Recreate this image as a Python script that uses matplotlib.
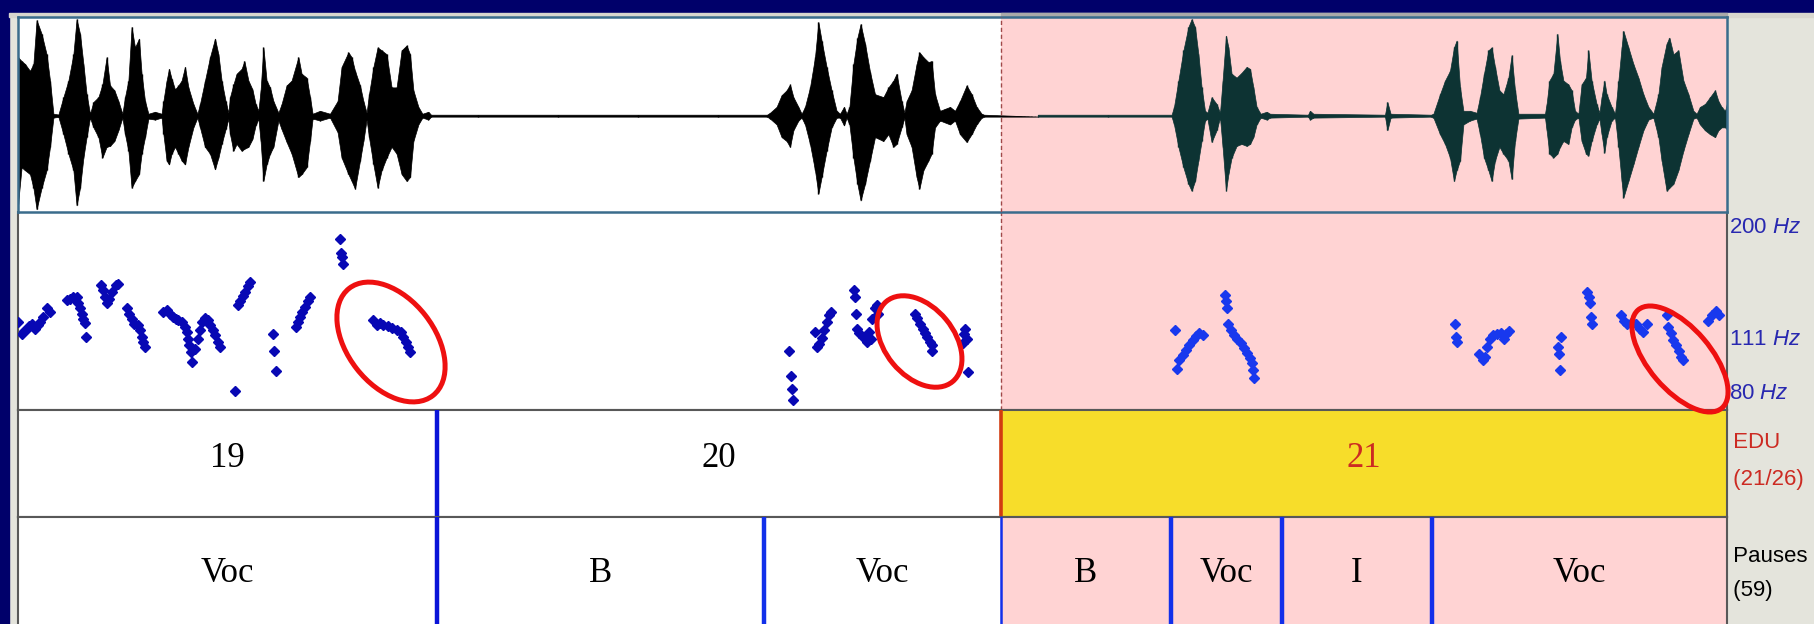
import matplotlib
matplotlib.use("Agg")
import matplotlib.pyplot as plt
from matplotlib.patches import Ellipse, Rectangle
import matplotlib.transforms as mtransforms
from matplotlib import font_manager
import numpy as np

_names = {f.name for f in font_manager.fontManager.ttflist}
NARROW = 'Liberation Sans Narrow' if 'Liberation Sans Narrow' in _names else 'Liberation Sans'
LABEL_FS = 18 if NARROW == 'Liberation Sans Narrow' else 16

plt.rcParams['mathtext.fontset'] = 'custom'
plt.rcParams['mathtext.rm'] = NARROW
plt.rcParams['mathtext.it'] = NARROW + ':italic'

# ---------------- data ----------------
view_start, view_end = 0.0, 8.545          # seconds shown in the window
sel_start = 4.915                           # start of selected interval (EDU 21)

# waveform envelope (time s, upper and lower amplitude)
wave_t = [0.000, 0.018, 0.035, 0.060, 0.077, 0.093, 0.118, 0.143, 0.160, 0.177, 0.202,
          0.227, 0.252, 0.277, 0.293, 0.310, 0.327, 0.343, 0.360, 0.377, 0.402, 0.422,
          0.443, 0.460, 0.482, 0.502, 0.522, 0.535, 0.552, 0.568, 0.585, 0.605, 0.618,
          0.635, 0.652, 0.685, 0.718, 0.727, 0.743, 0.755, 0.768, 0.785, 0.802, 0.818,
          0.835, 0.852, 0.877, 0.897, 0.910, 0.935, 0.960, 0.985, 1.002, 1.018, 1.038,
          1.052, 1.060, 1.077, 1.093, 1.118, 1.132, 1.152, 1.172, 1.188, 1.202, 1.213,
          1.227, 1.243, 1.260, 1.277, 1.302, 1.318, 1.343, 1.368, 1.402, 1.418, 1.443,
          1.460, 1.473, 1.510, 1.560, 1.598, 1.618, 1.652, 1.668, 1.685, 1.710, 1.727,
          1.743, 1.755, 1.777, 1.798, 1.818, 1.843, 1.868, 1.893, 1.918, 1.943, 1.960,
          1.977, 2.002, 2.022, 2.052, 2.065, 2.300, 2.700, 3.100, 3.500, 3.745, 3.760, 3.793,
          3.818, 3.843, 3.860, 3.877, 3.902, 3.918, 3.935, 3.960, 3.985, 4.002, 4.018,
          4.043, 4.068, 4.093, 4.110, 4.130, 4.143, 4.157, 4.177, 4.197, 4.213, 4.235,
          4.260, 4.285, 4.327, 4.352, 4.377, 4.393, 4.418, 4.432, 4.443, 4.468, 4.493,
          4.507, 4.527, 4.552, 4.568, 4.585, 4.610, 4.635, 4.660, 4.685, 4.710, 4.743,
          4.768, 4.793, 4.818, 4.830, 5.100, 5.450, 5.768, 5.780, 5.802, 5.827, 5.852, 5.868,
          5.885, 5.902, 5.918, 5.935, 5.947, 5.968, 5.993, 6.010, 6.023, 6.040, 6.052,
          6.068, 6.093, 6.118, 6.143, 6.160, 6.177, 6.193, 6.213, 6.243, 6.260, 6.450,
          6.460, 6.477, 6.835, 6.847, 6.863, 7.065, 7.077, 7.110, 7.135, 7.160, 7.180,
          7.193, 7.210, 7.227,
          7.260, 7.293, 7.310, 7.330, 7.352, 7.368, 7.385, 7.407, 7.427, 7.452, 7.468,
          7.485, 7.502, 7.635, 7.643, 7.657, 7.677, 7.697, 7.710, 7.727, 7.752, 7.768,
          7.785, 7.802, 7.818, 7.840, 7.852, 7.868, 7.893, 7.907, 7.918, 7.932, 7.943,
          7.968, 7.985, 8.002, 8.018, 8.027, 8.052, 8.077, 8.102, 8.127, 8.152, 8.177,
          8.202, 8.218, 8.243, 8.257, 8.277, 8.302, 8.327, 8.352, 8.377, 8.393, 8.410,
          8.435, 8.460, 8.485, 8.502, 8.518, 8.535, 8.545]
wave_hi = [0.60, 0.56, 0.53, 0.46, 0.53, 0.98, 0.84, 0.63, 0.36, 0.02, 0.012,
           0.19, 0.36, 0.63, 0.99, 0.84, 0.53, 0.22, 0.02, 0.14, 0.19, 0.32,
           0.60, 0.31, 0.26, 0.15, 0.02, 0.19, 0.36, 0.91, 0.70, 0.79, 0.43,
           0.15, 0.02, 0.04, 0.02, 0.15, 0.36, 0.48, 0.38, 0.27, 0.31, 0.36,
           0.50, 0.29, 0.12, 0.02, 0.12, 0.36, 0.60, 0.79, 0.63, 0.36, 0.15,
           0.03, 0.19, 0.32, 0.43, 0.48, 0.56, 0.36, 0.27, 0.12, 0.05, 0.26,
           0.70, 0.36, 0.29, 0.15, 0.03, 0.12, 0.31, 0.36, 0.60, 0.43, 0.39,
           0.19, 0.02, 0.05, 0.02, 0.15, 0.50, 0.65, 0.60, 0.46, 0.31, 0.15,
           0.03, 0.22, 0.50, 0.70, 0.67, 0.63, 0.29, 0.29, 0.67, 0.72, 0.63,
           0.26, 0.09, 0.02, 0.04, 0.01, 0.01, 0.01, 0.01, 0.01, 0.01, 0.03, 0.09,
           0.21, 0.26, 0.32, 0.19, 0.09, 0.02, 0.09, 0.29, 0.60, 0.96, 0.77,
           0.50, 0.26, 0.05, 0.02, 0.09, 0.02, 0.09, 0.53, 0.80, 0.94, 0.74,
           0.45, 0.22, 0.19, 0.29, 0.36, 0.43, 0.15, 0.03, 0.15, 0.26, 0.53,
           0.65, 0.60, 0.55, 0.56, 0.22, 0.05, 0.07, 0.09, 0.05, 0.15, 0.31,
           0.22, 0.09, 0.02, 0.01, 0.01, 0.01, 0.01, 0.09, 0.36, 0.67, 0.91, 0.99,
           0.91, 0.63, 0.29, 0.05, 0.03, 0.19, 0.12, 0.03, 0.36, 0.82, 0.70,
           0.43, 0.39, 0.44, 0.50, 0.48, 0.29, 0.09, 0.02, 0.04, 0.02, 0.01,
           0.05, 0.02, 0.01, 0.14, 0.02, 0.01, 0.02, 0.22, 0.36, 0.46, 0.70,
           0.77, 0.29, 0.05,
           0.05, 0.03, 0.19, 0.43, 0.67, 0.70, 0.50, 0.26, 0.22, 0.39, 0.62,
           0.26, 0.02, 0.02, 0.12, 0.36, 0.43, 0.84, 0.56, 0.36, 0.32, 0.26,
           0.05, 0.02, 0.32, 0.39, 0.67, 0.36, 0.12, 0.03, 0.19, 0.36, 0.22,
           0.09, 0.02, 0.36, 0.70, 0.87, 0.70, 0.53, 0.39, 0.22, 0.09, 0.02,
           0.22, 0.50, 0.74, 0.80, 0.63, 0.67, 0.36, 0.22, 0.05, 0.02, 0.09,
           0.12, 0.19, 0.26, 0.15, 0.09, 0.05, 0.12]
wave_lo = [-0.91, -0.53, -0.56, -0.60, -0.74, -0.96, -0.74, -0.56, -0.32, -0.02, -0.012,
           -0.19, -0.39, -0.56, -0.92, -0.74, -0.43, -0.22, -0.02, -0.12, -0.22, -0.43,
           -0.32, -0.31, -0.26, -0.15, -0.02, -0.19, -0.36, -0.74, -0.67, -0.60, -0.39,
           -0.22, -0.03, -0.04, -0.02, -0.19, -0.46, -0.50, -0.39, -0.32, -0.39, -0.46,
           -0.50, -0.32, -0.12, -0.02, -0.12, -0.32, -0.39, -0.55, -0.43, -0.29, -0.14,
           -0.03, -0.19, -0.36, -0.29, -0.36, -0.34, -0.32, -0.24, -0.10, -0.03, -0.26,
           -0.67, -0.50, -0.39, -0.32, -0.05, -0.14, -0.27, -0.39, -0.63, -0.60, -0.53,
           -0.26, -0.03, -0.05, -0.02, -0.17, -0.43, -0.60, -0.67, -0.75, -0.46, -0.26,
           -0.04, -0.22, -0.50, -0.74, -0.56, -0.43, -0.32, -0.39, -0.60, -0.67, -0.63,
           -0.26, -0.09, -0.02, -0.04, -0.01, -0.01, -0.01, -0.01, -0.01, -0.01, -0.03, -0.09,
           -0.22, -0.26, -0.32, -0.15, -0.05, -0.02, -0.09, -0.29, -0.56, -0.80, -0.63,
           -0.36, -0.12, -0.02, -0.02, -0.10, -0.02, -0.09, -0.43, -0.70, -0.87, -0.70,
           -0.46, -0.22, -0.26, -0.19, -0.32, -0.29, -0.12, -0.02, -0.19, -0.32, -0.63,
           -0.75, -0.56, -0.46, -0.39, -0.12, -0.05, -0.07, -0.09, -0.05, -0.19, -0.27,
           -0.19, -0.09, -0.02, -0.01, -0.01, -0.01, -0.01, -0.09, -0.32, -0.53, -0.70, -0.77,
           -0.67, -0.46, -0.26, -0.05, -0.03, -0.27, -0.15, -0.02, -0.32, -0.77, -0.60,
           -0.43, -0.31, -0.29, -0.31, -0.29, -0.22, -0.09, -0.02, -0.04, -0.02, -0.01,
           -0.04, -0.02, -0.01, -0.15, -0.02, -0.01, -0.02, -0.19, -0.29, -0.43, -0.67,
           -0.56, -0.46, -0.09,
           -0.05, -0.03, -0.19, -0.43, -0.56, -0.67, -0.46, -0.32, -0.39, -0.46, -0.65,
           -0.26, -0.03, -0.02, -0.15, -0.39, -0.43, -0.39, -0.32, -0.26, -0.29, -0.12,
           -0.04, -0.02, -0.26, -0.39, -0.41, -0.26, -0.09, -0.03, -0.19, -0.38, -0.22,
           -0.05, -0.02, -0.32, -0.67, -0.84, -0.67, -0.50, -0.32, -0.15, -0.04, -0.02,
           -0.22, -0.46, -0.77, -0.74, -0.70, -0.56, -0.36, -0.19, -0.03, -0.02, -0.09,
           -0.15, -0.19, -0.22, -0.15, -0.12, -0.12, -0.14]

# pitch track (time s, F0 Hz)
pitch_t = [0.002, 0.018, 0.030, 0.043, 0.055, 0.068, 0.085, 0.098, 0.110, 0.127, 0.143, 0.160,
           0.243, 0.260, 0.277, 0.293, 0.302, 0.310, 0.318, 0.327, 0.335, 0.340,
           0.415, 0.427, 0.435, 0.443, 0.457, 0.472, 0.488, 0.498,
           0.543, 0.555, 0.568, 0.582, 0.598, 0.610, 0.618, 0.627, 0.635,
           0.727, 0.743, 0.760, 0.777, 0.790, 0.802, 0.818, 0.835, 0.843, 0.848, 0.855, 0.863,
           0.872, 0.885, 0.898, 0.910, 0.922, 0.935, 0.948, 0.960, 0.973, 0.985, 0.998, 1.010,
           1.085, 1.098, 1.110, 1.123, 1.135, 1.148, 1.160,
           1.277, 1.282, 1.288,
           1.388, 1.398, 1.410, 1.422, 1.435, 1.448, 1.460,
           1.610, 1.615, 1.620, 1.627,
           1.777, 1.793, 1.810, 1.827, 1.848, 1.868, 1.893, 1.915, 1.927, 1.938, 1.952, 1.962,
           3.857, 3.863, 3.868, 3.873,
           3.985, 3.993, 4.007, 4.018, 4.030, 4.043, 4.057, 4.063,
           4.182, 4.185, 4.190, 4.193, 4.207, 4.223, 4.243, 4.255, 4.265, 4.270, 4.283, 4.293, 4.300,
           4.485, 4.497, 4.510, 4.523, 4.535, 4.547, 4.560, 4.572, 4.568,
           4.723, 4.732, 4.735, 4.743, 4.748,
           5.785, 5.793, 5.807, 5.823, 5.840, 5.857, 5.873, 5.890, 5.907, 5.923,
           6.035, 6.040, 6.047, 6.052, 6.063, 6.080, 6.097, 6.113, 6.130, 6.147, 6.160, 6.170,
           6.177, 6.182,
           7.185, 7.190, 7.197,
           7.307, 7.323, 7.335, 7.347, 7.360, 7.377, 7.397, 7.413, 7.430, 7.440, 7.453,
           7.698, 7.703, 7.710, 7.715,
           7.847, 7.853, 7.860, 7.863, 7.870,
           8.013, 8.030, 8.047, 8.068, 8.090, 8.110, 8.127, 8.143,
           8.243, 8.252, 8.263, 8.277, 8.290, 8.303, 8.317, 8.327,
           8.452, 8.468, 8.490, 8.507]
pitch_hz = [120.2, 113.9, 115.5, 116.5, 118.0, 119.3, 116.5, 118.5, 120.2, 123.1, 128.0, 126.0,
            133.0, 134.0, 135.0, 135.0, 131.0, 128.0, 125.0, 122.1, 119.6, 112.3,
            142.5, 139.2, 135.0, 131.0, 134.0, 138.1, 142.5, 143.6,
            128.0, 125.0, 122.1, 119.3, 118.4, 115.6, 112.3, 109.6, 107.1,
            126.0, 127.0, 125.0, 123.1, 122.0, 121.1, 120.2, 117.5, 114.7, 111.2, 107.9, 104.6,
            99.9, 106.3, 111.2, 115.6, 120.2, 122.7, 121.1, 118.4, 115.6, 113.0, 109.6, 107.1,
            87.5, 130.0, 132.6, 135.4, 138.1, 141.8, 144.8,
            113.5, 105.1, 95.7,
            117.5, 120.2, 123.1, 126.0, 129.0, 132.6, 135.0,
            176.3, 165.7, 162.5, 157.2,
            121.1, 118.4, 119.6, 118.7, 117.9, 117.1, 116.0, 114.7, 112.0, 109.6, 107.1, 104.6,
            105.0, 93.5, 88.2, 83.6,
            114.7, 107.1, 108.8, 111.7, 115.6, 120.2, 124.0, 126.0,
            139.2, 135.0, 125.0, 116.5, 114.2, 112.0, 109.6, 115.0, 111.0, 122.0, 128.0, 130.0, 125.0,
            125.0, 122.7, 119.3, 116.5, 114.2, 112.0, 109.6, 107.9, 105.0,
            109.1, 113.5, 116.5, 111.2, 95.4,
            115.6, 96.8, 100.6, 103.1, 105.5, 107.9, 110.4, 112.5, 114.2, 113.0,
            136.0, 132.6, 128.0, 119.3, 115.6, 113.0, 111.2, 109.1, 106.8, 104.1, 101.9, 99.4,
            96.4, 92.8,
            118.9, 112.0, 109.6,
            103.6, 100.6, 102.2, 107.1, 111.2, 113.0, 113.9, 114.2, 111.2, 113.9, 115.3,
            107.1, 103.6, 96.4, 112.4,
            138.1, 135.0, 131.4, 123.1, 119.3,
            124.0, 120.7, 118.9, 120.2, 118.9, 116.5, 114.7, 118.9,
            124.0, 117.5, 114.2, 110.7, 107.9, 105.1, 102.2, 100.6,
            120.7, 124.0, 126.2, 124.0]
pitch_min, pitch_max = 80, 200
pitch_marks = [200, 111, 80]

# text grid tiers
edu_bounds = [2.095, 4.915]
edu_labels = ['19', '20', '21']
pause_bounds = [2.095, 3.73, 4.915, 5.765, 6.32, 7.07]
pause_labels = ['Voc', 'B', 'Voc', 'B', 'Voc', 'I', 'Voc']

# ---------------- style ----------------
W, H = 1814, 624
NAVY = '#00006a'
UI_GRAY = '#e4e4dc'
PINK = '#ffd3d3'
YELLOW = '#f7dd2a'
WAVE_BLACK = '#000000'
WAVE_SEL = '#0d3333'
PITCH_BLUE = '#0808b4'
PITCH_SEL = '#1838ee'
BOUND_BLUE = '#0a14d8'
PAUSE_BLUE = '#1230ea'
SEL_RED = '#d23c10'
ELL_RED = '#ee1010'
HZ_BLUE = '#2828b0'
EDU_RED = '#cc2a22'
TIER_LINE = '#585858'
WAVE_BORDER = '#3a6c8c'

fig = plt.figure(figsize=(W / 100, H / 100), dpi=100)
fig.patch.set_facecolor(UI_GRAY)


def rect(x0, y0, x1, y1):
    return [x0 / W, 1 - y1 / H, (x1 - x0) / W, (y1 - y0) / H]


# background chrome
bg = fig.add_axes([0, 0, 1, 1], zorder=0)
bg.set_xlim(0, W)
bg.set_ylim(H, 0)
bg.axis('off')
bg.add_patch(Rectangle((0, 0), W, 13, color=NAVY))
bg.add_patch(Rectangle((0, 0), 9, H, color=NAVY))
bg.add_patch(Rectangle((9, 13), W - 9, 4, color='#d8d6ce'))
bg.add_patch(Rectangle((1001, 13), 726, 3, color='#a9a9a9'))

L, R = 18, 1727
ax_w = fig.add_axes(rect(L, 17, R, 212), zorder=2)
ax_p = fig.add_axes(rect(L, 212, R, 410), zorder=1)
ax_e = fig.add_axes(rect(L, 410, R, 517), zorder=1)
ax_s = fig.add_axes(rect(L, 517, R, 624), zorder=1)

for ax in (ax_w, ax_p, ax_e, ax_s):
    ax.set_xlim(view_start, view_end)
    ax.set_xticks([])
    ax.set_yticks([])
    ax.set_facecolor('white')
    for sp in ax.spines.values():
        sp.set_color(TIER_LINE)
        sp.set_linewidth(1.5)

# waveform
t = np.array(wave_t)
hi = np.array(wave_hi)
lo = np.array(wave_lo)
ax_w.set_ylim(-0.988, 1.012)
ax_w.axvspan(sel_start, view_end, color=PINK, lw=0, zorder=0)
ax_w.fill_between(t, lo, hi, where=t <= sel_start, interpolate=True,
                  color=WAVE_BLACK, lw=0.5, zorder=2)
ax_w.fill_between(t, lo, hi, where=t >= sel_start, interpolate=True,
                  color=WAVE_SEL, lw=0.5, zorder=2)
m1 = t <= sel_start
ax_w.vlines(t[m1], lo[m1], hi[m1], color=WAVE_BLACK, lw=1.0, zorder=2)
m2 = t >= sel_start
ax_w.vlines(t[m2], lo[m2], hi[m2], color=WAVE_SEL, lw=1.0, zorder=2)
ax_w.axhline(0, color='#404040', lw=0.5, ls=(0, (1, 1)), zorder=1)
ax_w.axvline(sel_start, color='#a04848', ls=(0, (3, 2)), lw=1.0, zorder=3)
for sp in ax_w.spines.values():
    sp.set_color(WAVE_BORDER)
    sp.set_linewidth(1.8)

# pitch
pt = np.array(pitch_t)
ph = np.array(pitch_hz)
ax_p.set_yscale('log')
ax_p.set_ylim(pitch_min, pitch_max)
ax_p.minorticks_off()
ax_p.set_yticks([])
ax_p.axvspan(sel_start, view_end, color=PINK, lw=0, zorder=0)
ax_p.axvline(sel_start, color='#a04848', ls=(0, (3, 2)), lw=1.0, zorder=1)
ax_p.plot(pt[pt < sel_start], ph[pt < sel_start], ls='none', marker='D', ms=5.0,
          color=PITCH_BLUE, mec=PITCH_BLUE, zorder=3)
ax_p.plot(pt[pt >= sel_start], ph[pt >= sel_start], ls='none', marker='D', ms=5.0,
          color=PITCH_SEL, mec=PITCH_SEL, zorder=3)
ax_p.spines['top'].set_visible(False)

# pitch scale labels at right
tr = mtransforms.blended_transform_factory(ax_p.transAxes, ax_p.transData)
for v in pitch_marks:
    va = 'center'
    dy = 0
    if v == pitch_max:
        va = 'top'
        dy = -5
    elif v == pitch_min:
        va = 'bottom'
        dy = 6
    off = mtransforms.offset_copy(tr, fig=fig, x=2, y=dy, units='dots')
    ax_p.text(1.0, v, f'{v} $\\mathit{{Hz}}$', transform=off, ha='left', va=va,
              color=HZ_BLUE, fontsize=LABEL_FS, family=NARROW, clip_on=False)

# EDU tier
edges = [view_start] + edu_bounds + [view_end]
ax_e.axvspan(sel_start, view_end, color=YELLOW, lw=0, zorder=0)
for i, lab in enumerate(edu_labels):
    mid = (edges[i] + edges[i + 1]) / 2
    col = EDU_RED if edges[i] >= sel_start else 'black'
    ax_e.text(mid, 0.55, lab, transform=ax_e.get_xaxis_transform(), ha='center',
              va='center', fontsize=25, family='Liberation Serif', color=col)
for b in edu_bounds:
    if abs(b - sel_start) < 1e-6:
        ax_e.axvline(b, color=SEL_RED, lw=2.6, zorder=3)
    else:
        ax_e.axvline(b, color=BOUND_BLUE, lw=3.2, zorder=3)
ax_e.text(1.0, 0.70, ' EDU', transform=ax_e.transAxes, ha='left', va='center',
          color=EDU_RED, fontsize=LABEL_FS, family=NARROW, clip_on=False)
ax_e.text(1.0, 0.35, ' (21/26)', transform=ax_e.transAxes, ha='left', va='center',
          color=EDU_RED, fontsize=LABEL_FS, family=NARROW, clip_on=False)

# Pauses tier
edges = [view_start] + pause_bounds + [view_end]
ax_s.axvspan(sel_start, view_end, color=PINK, lw=0, zorder=0)
for i, lab in enumerate(pause_labels):
    mid = (edges[i] + edges[i + 1]) / 2
    ax_s.text(mid, 0.47, lab, transform=ax_s.get_xaxis_transform(), ha='center',
              va='center', fontsize=25, family='Liberation Serif', color='black')
for b in pause_bounds:
    lw = 1.8 if abs(b - sel_start) < 1e-6 else 3.2
    ax_s.axvline(b, color=PAUSE_BLUE if b != edu_bounds[0] else BOUND_BLUE,
                 lw=lw, zorder=3, solid_capstyle='round')
ax_s.spines['bottom'].set_visible(False)
ax_s.text(1.0, 0.63, ' Pauses', transform=ax_s.transAxes, ha='left', va='center',
          color='black', fontsize=LABEL_FS, family=NARROW, clip_on=False)
ax_s.text(1.0, 0.31, ' (59)', transform=ax_s.transAxes, ha='left', va='center',
          color='black', fontsize=LABEL_FS, family=NARROW, clip_on=False)

# red annotation ellipses (pixel space overlay)
ov = fig.add_axes([0, 0, 1, 1], zorder=10)
ov.set_xlim(0, W)
ov.set_ylim(H, 0)
ov.axis('off')
for (cx, cy, w, h, ang) in [(391, 342, 136, 87, 52), (919.5, 341.5, 104, 69, 50.5),
                            (1680, 359, 129, 62, 49.5)]:
    ov.add_patch(Ellipse((cx, cy), w, h, angle=ang, fill=False, ec=ELL_RED, lw=3.6))

fig.savefig('out.png', dpi=100, facecolor=fig.get_facecolor())
